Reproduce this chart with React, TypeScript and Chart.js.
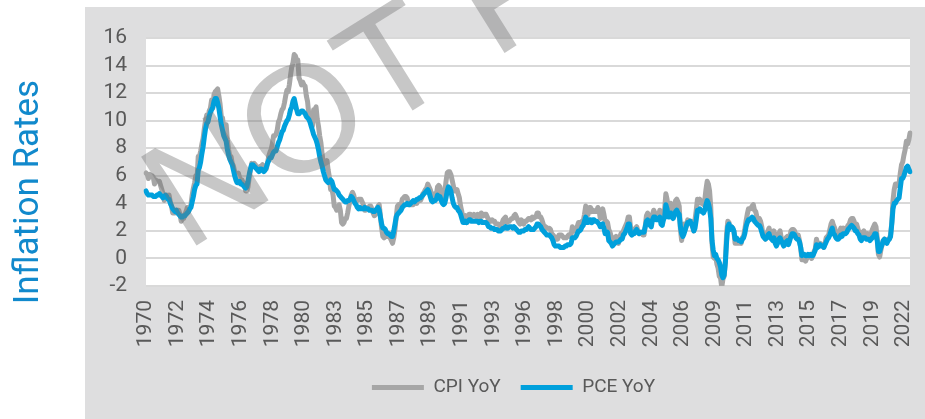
import React, { useEffect, useRef } from "react";
import Chart from "chart.js/auto";

// ---- Data (monthly YoY %, Jan 1970 – Jun 2022) ----
const startYear = 1970;
const labelStep = 26; // one tick label every 26 months

const cpi1970s = [
  6.2, 6.1, 5.8, 6.1, 6.0, 6.0, 5.9, 5.4, 5.7, 5.6, 5.6, 5.6,
  5.3, 5.0, 4.7, 4.2, 4.4, 4.6, 4.4, 4.6, 4.1, 3.8, 3.3, 3.3,
  3.3, 3.5, 3.5, 3.5, 3.2, 2.7, 2.9, 2.9, 3.2, 3.4, 3.7, 3.4,
  3.6, 3.9, 4.6, 5.1, 5.5, 6.0, 5.7, 7.4, 7.4, 7.8, 8.3, 8.7,
  9.4, 10.0, 10.4, 10.1, 10.7, 10.9, 11.5, 10.9, 11.9, 12.1, 12.2, 12.3,
  11.8, 11.2, 10.3, 10.2, 9.5, 9.3, 9.7, 8.6, 7.9, 7.4, 7.4, 6.9,
  6.7, 6.3, 6.1, 6.0, 6.2, 5.9, 5.4, 5.7, 5.5, 5.5, 4.9, 4.9,
  5.2, 5.9, 6.4, 6.9, 6.7, 6.9, 6.8, 6.6, 6.6, 6.4, 6.7, 6.7,
  6.8, 6.4, 6.6, 6.5, 6.9, 7.4, 7.7, 7.9, 8.3, 8.9, 8.9, 9.0,
  9.3, 9.9, 10.1, 10.5, 10.8, 10.9, 11.3, 11.8, 12.2, 12.1, 12.6, 13.3,
];
const cpi1980s = [
  13.9, 14.2, 14.8, 14.7, 14.4, 14.4, 13.1, 12.9, 12.6, 12.8, 12.6, 12.5,
  11.8, 11.4, 10.5, 10.0, 9.8, 9.6, 10.8, 10.8, 11.0, 10.1, 9.6, 8.9,
  8.4, 7.6, 6.8, 6.5, 6.7, 7.1, 6.4, 5.9, 5.0, 5.1, 4.6, 3.8,
  3.7, 3.5, 3.6, 3.9, 3.5, 2.6, 2.5, 2.6, 2.9, 2.9, 3.3, 3.8,
  4.2, 4.6, 4.8, 4.6, 4.2, 4.2, 4.2, 4.3, 4.3, 4.3, 4.1, 3.9,
  3.5, 3.5, 3.7, 3.7, 3.8, 3.8, 3.6, 3.3, 3.1, 3.2, 3.5, 3.8,
  3.9, 3.1, 2.2, 1.6, 1.5, 1.8, 1.6, 1.6, 1.8, 1.5, 1.3, 1.1,
  1.5, 2.1, 3.0, 3.8, 3.9, 3.7, 3.9, 4.3, 4.4, 4.5, 4.5, 4.4,
  4.0, 3.9, 3.9, 3.9, 3.9, 4.0, 4.1, 4.0, 4.2, 4.2, 4.2, 4.4,
  4.7, 4.8, 5.0, 5.1, 5.4, 5.2, 5.0, 4.7, 4.3, 4.5, 4.7, 4.6,
];
const cpi1990s = [
  5.2, 5.3, 5.2, 4.7, 4.4, 4.7, 4.8, 5.6, 6.2, 6.3, 6.3, 6.1,
  5.7, 5.3, 4.9, 4.9, 5.0, 4.7, 4.4, 3.8, 3.4, 2.9, 3.0, 3.1,
  2.6, 2.8, 3.2, 3.2, 3.0, 3.1, 3.2, 3.1, 3.0, 3.2, 3.0, 2.9,
  3.3, 3.2, 3.1, 3.2, 3.2, 3.0, 2.8, 2.8, 2.7, 2.8, 2.7, 2.7,
  2.5, 2.5, 2.5, 2.4, 2.3, 2.5, 2.8, 2.9, 3.0, 2.6, 2.7, 2.7,
  2.8, 2.9, 2.9, 3.1, 3.2, 3.0, 2.8, 2.6, 2.5, 2.8, 2.6, 2.5,
  2.7, 2.7, 2.8, 2.9, 2.9, 2.8, 3.0, 2.9, 3.0, 3.0, 3.3, 3.3,
  3.0, 3.0, 2.8, 2.5, 2.2, 2.3, 2.2, 2.2, 2.2, 2.1, 1.8, 1.7,
  1.6, 1.4, 1.4, 1.4, 1.7, 1.7, 1.7, 1.6, 1.5, 1.5, 1.5, 1.6,
  1.7, 1.6, 1.7, 2.3, 2.1, 2.0, 2.1, 2.3, 2.6, 2.6, 2.6, 2.7,
];
const cpi2000s = [
  2.7, 3.2, 3.8, 3.1, 3.2, 3.7, 3.7, 3.4, 3.5, 3.4, 3.4, 3.4,
  3.7, 3.5, 2.9, 3.3, 3.6, 3.2, 2.7, 2.7, 2.6, 2.1, 1.9, 1.6,
  1.1, 1.1, 1.5, 1.6, 1.2, 1.1, 1.5, 1.8, 1.5, 2.0, 2.2, 2.4,
  2.6, 3.0, 3.0, 2.2, 2.1, 2.1, 2.1, 2.2, 2.3, 2.0, 1.8, 1.9,
  1.9, 1.7, 1.7, 2.3, 3.1, 3.3, 3.0, 2.7, 2.5, 3.2, 3.5, 3.3,
  3.0, 3.0, 3.1, 3.5, 2.8, 2.5, 3.2, 3.6, 4.7, 4.3, 3.5, 3.4,
  4.0, 3.6, 3.4, 3.5, 4.2, 4.3, 4.1, 3.8, 2.1, 1.3, 2.0, 2.5,
  2.1, 2.4, 2.8, 2.6, 2.7, 2.7, 2.4, 2.0, 2.8, 3.5, 4.3, 4.1,
  4.3, 4.0, 4.0, 3.9, 4.2, 5.0, 5.6, 5.4, 4.9, 3.7, 1.1, 0.1,
  0.0, 0.2, -0.4, -0.7, -1.3, -1.4, -2.1, -1.5, -1.3, -0.2, 1.8, 2.7,
];
const cpi2010s = [
  2.6, 2.1, 2.3, 2.2, 2.0, 1.1, 1.2, 1.1, 1.1, 1.2, 1.1, 1.5,
  1.6, 2.1, 2.7, 3.2, 3.6, 3.6, 3.6, 3.8, 3.9, 3.5, 3.4, 3.0,
  2.9, 2.9, 2.7, 2.3, 1.7, 1.7, 1.4, 1.7, 2.0, 2.2, 1.8, 1.7,
  1.6, 2.0, 1.5, 1.1, 1.4, 1.8, 2.0, 1.5, 1.2, 1.0, 1.2, 1.5,
  1.6, 1.1, 1.5, 2.0, 2.1, 2.1, 2.0, 1.7, 1.7, 1.7, 1.3, 0.8,
  -0.1, 0.0, -0.1, -0.2, 0.0, 0.1, 0.2, 0.2, 0.0, 0.2, 0.5, 0.7,
  1.4, 1.0, 0.9, 1.1, 1.0, 1.0, 0.8, 1.1, 1.5, 1.6, 1.7, 2.1,
  2.5, 2.7, 2.4, 2.2, 1.9, 1.6, 1.7, 1.9, 2.2, 2.0, 2.2, 2.1,
  2.1, 2.2, 2.4, 2.5, 2.8, 2.9, 2.9, 2.7, 2.3, 2.5, 2.2, 1.9,
  1.6, 1.5, 1.9, 2.0, 1.8, 1.6, 1.8, 1.7, 1.7, 1.8, 2.1, 2.3,
];
const cpi2020s = [
  2.5, 2.3, 1.5, 0.3, 0.1, 0.6, 1.0, 1.3, 1.4, 1.2, 1.2, 1.4,
  1.4, 1.7, 2.6, 4.2, 5.0, 5.4, 5.4, 5.3, 5.4, 6.2, 6.8, 7.0,
  7.5, 7.9, 8.5, 8.3, 8.6, 9.1,
];

const pce1970s = [
  4.9, 4.7, 4.6, 4.6, 4.6, 4.6, 4.5, 4.5, 4.5, 4.6, 4.6, 4.7,
  4.6, 4.5, 4.4, 4.5, 4.6, 4.5, 4.3, 4.3, 4.0, 3.8, 3.6, 3.5,
  3.4, 3.5, 3.3, 3.2, 3.1, 3.0, 3.0, 3.1, 3.1, 3.2, 3.3, 3.4,
  3.6, 3.7, 4.1, 4.5, 5.0, 5.3, 5.4, 6.4, 6.6, 7.0, 7.6, 8.1,
  8.8, 9.4, 9.8, 9.9, 10.3, 10.6, 10.8, 11.0, 11.4, 11.6, 11.6, 11.3,
  10.9, 10.3, 9.7, 9.3, 8.9, 8.7, 8.5, 7.9, 7.5, 7.2, 7.0, 6.8,
  6.4, 6.0, 5.7, 5.5, 5.5, 5.6, 5.4, 5.4, 5.3, 5.2, 5.1, 5.2,
  5.6, 6.1, 6.5, 6.8, 6.8, 6.7, 6.6, 6.5, 6.4, 6.3, 6.5, 6.5,
  6.4, 6.3, 6.4, 6.6, 6.9, 7.1, 7.3, 7.3, 7.5, 7.7, 7.8, 7.8,
  8.1, 8.4, 8.6, 8.9, 9.2, 9.3, 9.6, 9.8, 10.0, 10.1, 10.4, 10.8,
];
const pce1980s = [
  11.0, 11.4, 11.6, 11.2, 10.8, 10.5, 10.5, 10.6, 10.7, 10.7, 10.6, 10.5,
  10.3, 10.2, 10.1, 9.9, 9.6, 9.3, 9.0, 8.8, 8.6, 8.3, 7.9, 7.4,
  7.0, 6.7, 6.3, 6.0, 5.7, 5.6, 5.5, 5.6, 5.7, 5.6, 5.3, 5.0,
  5.0, 4.9, 4.8, 4.6, 4.5, 4.4, 4.3, 4.2, 4.1, 4.1, 4.2, 4.2,
  4.3, 4.5, 4.4, 4.2, 4.0, 3.9, 3.7, 3.6, 3.7, 3.6, 3.6, 3.6,
  3.7, 3.6, 3.6, 3.6, 3.5, 3.5, 3.5, 3.4, 3.4, 3.5, 3.6, 3.7,
  3.5, 3.0, 2.5, 2.2, 2.2, 2.1, 1.9, 1.8, 1.8, 1.7, 1.6, 1.6,
  2.0, 2.5, 3.0, 3.2, 3.3, 3.4, 3.5, 3.7, 3.8, 3.9, 3.9, 4.0,
  3.9, 3.9, 4.0, 4.1, 4.2, 4.1, 4.2, 4.3, 4.3, 4.4, 4.4, 4.5,
  4.6, 4.7, 4.8, 4.9, 5.0, 4.8, 4.5, 4.2, 4.1, 4.2, 4.2, 4.3,
];
const pce1990s = [
  4.6, 4.5, 4.5, 4.2, 4.0, 3.9, 4.0, 4.4, 4.9, 5.2, 5.1, 4.9,
  4.4, 4.0, 3.8, 3.7, 3.7, 3.5, 3.4, 3.2, 2.9, 2.6, 2.6, 2.7,
  2.6, 2.7, 2.8, 2.8, 2.7, 2.7, 2.7, 2.7, 2.7, 2.7, 2.6, 2.7,
  2.7, 2.6, 2.6, 2.6, 2.6, 2.5, 2.3, 2.3, 2.2, 2.2, 2.2, 2.1,
  2.1, 2.1, 2.0, 2.0, 2.0, 2.1, 2.2, 2.2, 2.3, 2.2, 2.2, 2.3,
  2.3, 2.3, 2.2, 2.3, 2.2, 2.1, 2.0, 1.9, 1.9, 2.0, 2.0, 2.0,
  2.1, 2.1, 2.2, 2.3, 2.2, 2.1, 2.1, 2.1, 2.2, 2.3, 2.5, 2.5,
  2.4, 2.3, 2.1, 2.0, 1.9, 1.8, 1.7, 1.7, 1.7, 1.6, 1.5, 1.3,
  1.0, 0.9, 0.9, 0.9, 0.9, 0.8, 0.8, 0.8, 0.8, 0.9, 0.9, 1.0,
  1.0, 1.0, 1.1, 1.5, 1.5, 1.5, 1.6, 1.8, 2.0, 2.0, 2.1, 2.3,
];
const pce2000s = [
  2.4, 2.7, 3.0, 2.6, 2.6, 2.8, 2.8, 2.6, 2.8, 2.8, 2.7, 2.7,
  2.6, 2.5, 2.3, 2.4, 2.5, 2.2, 1.8, 1.8, 1.9, 1.3, 1.2, 1.1,
  0.9, 1.0, 1.1, 1.2, 1.2, 1.2, 1.3, 1.4, 1.4, 1.7, 1.8, 2.0,
  2.2, 2.5, 2.5, 1.8, 1.7, 1.8, 1.8, 2.0, 2.1, 1.9, 1.8, 1.9,
  1.9, 1.9, 1.9, 2.3, 2.7, 2.8, 2.6, 2.4, 2.3, 2.8, 3.0, 3.0,
  2.8, 2.8, 2.8, 3.0, 2.5, 2.4, 2.8, 3.0, 3.9, 3.6, 3.0, 3.0,
  3.3, 3.0, 2.9, 3.1, 3.4, 3.5, 3.3, 3.2, 2.3, 1.8, 1.6, 1.8,
  2.1, 2.4, 2.6, 2.6, 2.7, 2.5, 2.3, 2.0, 2.2, 2.8, 3.5, 3.5,
  3.6, 3.4, 3.4, 3.3, 3.5, 3.9, 4.2, 4.0, 3.6, 2.9, 1.3, 0.6,
  0.2, 0.3, 0.0, -0.1, -0.3, -0.6, -1.2, -1.4, -1.2, -0.3, 1.2, 2.3,
];
const pce2010s = [
  2.5, 2.1, 2.3, 2.2, 2.0, 1.4, 1.5, 1.4, 1.3, 1.3, 1.2, 1.4,
  1.5, 1.8, 2.3, 2.6, 2.8, 2.8, 2.9, 3.0, 2.9, 2.7, 2.6, 2.5,
  2.4, 2.4, 2.2, 1.9, 1.6, 1.5, 1.4, 1.5, 1.7, 1.8, 1.5, 1.4,
  1.3, 1.5, 1.1, 0.9, 1.1, 1.4, 1.5, 1.3, 1.1, 0.9, 1.0, 1.2,
  1.3, 1.0, 1.3, 1.6, 1.8, 1.8, 1.7, 1.5, 1.4, 1.4, 1.2, 0.8,
  0.2, 0.3, 0.3, 0.2, 0.2, 0.3, 0.2, 0.3, 0.2, 0.2, 0.4, 0.6,
  1.0, 0.8, 0.9, 1.0, 0.9, 0.9, 0.8, 1.0, 1.2, 1.4, 1.5, 1.7,
  2.0, 2.2, 1.8, 1.7, 1.5, 1.4, 1.4, 1.5, 1.7, 1.6, 1.8, 1.8,
  1.8, 1.9, 2.1, 2.2, 2.3, 2.4, 2.3, 2.2, 2.0, 2.0, 1.8, 1.7,
  1.4, 1.3, 1.5, 1.5, 1.5, 1.4, 1.4, 1.4, 1.3, 1.4, 1.5, 1.6,
];
const pce2020s = [
  1.8, 1.8, 1.3, 0.5, 0.5, 0.8, 1.0, 1.3, 1.4, 1.2, 1.1, 1.3,
  1.4, 1.6, 2.5, 3.6, 4.0, 4.0, 4.2, 4.3, 4.4, 5.1, 5.8, 5.8,
  6.0, 6.3, 6.6, 6.7, 6.5, 6.3,
];

const cpiYoY = [...cpi1970s, ...cpi1980s, ...cpi1990s, ...cpi2000s, ...cpi2010s, ...cpi2020s];
const pceYoY = [...pce1970s, ...pce1980s, ...pce1990s, ...pce2000s, ...pce2010s, ...pce2020s];
const categories = cpiYoY.map((_, i) => String(startYear + Math.floor(i / 12)));

const yMin = -2;
const yMax = 16;
const yStep = 2;
const seriesNames = ["CPI YoY", "PCE YoY"];
const yTitle = "Inflation Rates";
const watermark = "NOT FOR DISTRIBUTION";

// ---- Styles ----
const W = 925;
const H = 419;
const PANEL = { x: 85, y: 7 };
const GRAY_PANEL = "#dededf";
const CPI_COLOR = "#a6a6a6";
const PCE_COLOR = "#00a0dc";
const TEXT_COLOR = "#595959";
const TITLE_COLOR = "#1189cc";
const LEGEND_SHIFT = 16;

const decorPlugin = {
  id: "decor",
  afterLayout(chart: any) {
    if (chart.legend) {
      chart.legend.left += LEGEND_SHIFT;
      chart.legend.right += LEGEND_SHIFT;
    }
  },
  beforeDraw(chart: any) {
    const { ctx, chartArea } = chart;
    ctx.save();
    ctx.fillStyle = "#ffffff";
    ctx.fillRect(0, 0, W, H);
    ctx.fillStyle = GRAY_PANEL;
    ctx.fillRect(PANEL.x, PANEL.y, W - PANEL.x, H - PANEL.y);
    ctx.fillStyle = "#ffffff";
    ctx.fillRect(chartArea.left, chartArea.top, chartArea.right - chartArea.left, chartArea.bottom - chartArea.top);
    ctx.restore();
  },
  afterDraw(chart: any) {
    const { ctx } = chart;
    // y-axis title
    ctx.save();
    ctx.translate(29, 192);
    ctx.rotate(-Math.PI / 2);
    ctx.font = '35px Roboto';
    ctx.fillStyle = TITLE_COLOR;
    ctx.textAlign = "center";
    ctx.textBaseline = "middle";
    ctx.fillText(yTitle, 0, 0);
    ctx.restore();
    // watermark
    ctx.save();
    ctx.translate(186, 252);
    ctx.rotate((-32 * Math.PI) / 180);
    ctx.font = '152px "Liberation Sans", Arial, sans-serif';
    ctx.fillStyle = "rgba(116,116,116,0.4)";
    ctx.textBaseline = "alphabetic";
    ctx.fillText(watermark, 0, 0);
    ctx.restore();
  },
};

export default function App() {
  const canvasRef = useRef<HTMLCanvasElement | null>(null);

  useEffect(() => {
    const canvas = canvasRef.current;
    if (!canvas) return;
    const chart = new Chart(canvas, {
      type: "line",
      data: {
        labels: categories,
        datasets: [
          {
            label: seriesNames[0],
            data: cpiYoY,
            borderColor: CPI_COLOR,
            backgroundColor: CPI_COLOR,
            borderWidth: 5,
            pointRadius: 0,
            borderJoinStyle: "round",
            borderCapStyle: "round",
            tension: 0,
            order: 2,
          },
          {
            label: seriesNames[1],
            data: pceYoY,
            borderColor: PCE_COLOR,
            backgroundColor: PCE_COLOR,
            borderWidth: 5,
            pointRadius: 0,
            borderJoinStyle: "round",
            borderCapStyle: "round",
            tension: 0,
            order: 1,
          },
        ],
      },
      options: {
        responsive: false,
        animation: false,
        devicePixelRatio: 1,
        layout: { padding: { left: PANEL.x, top: 38, right: 15, bottom: 12 } },
        font: { family: "Roboto" },
        plugins: {
          tooltip: { enabled: false },
          legend: {
            position: "bottom",
            labels: {
              usePointStyle: true,
              pointStyle: "line",
              pointStyleWidth: 52,
              padding: 20,
              color: TEXT_COLOR,
              font: { family: "Roboto", size: 19 },
              sort: (a: any, b: any) => a.datasetIndex - b.datasetIndex,
            },
          },
        },
        scales: {
          x: {
            type: "category",
            grid: { display: false, drawTicks: false },
            border: { display: false },
            afterFit: (s: any) => {
              s.height = 72;
              s.paddingLeft = 0;
              s.paddingRight = 0;
            },
            ticks: {
              autoSkip: false,
              minRotation: 90,
              maxRotation: 90,
              padding: 14,
              color: TEXT_COLOR,
              font: { family: "Roboto", size: 21 },
              callback: (_v: any, i: number) => (i % labelStep === 0 ? categories[i] : ""),
            },
          },
          y: {
            min: yMin,
            max: yMax,
            afterFit: (s: any) => {
              s.width = 61;
              s.paddingTop = 0;
              s.paddingBottom = 0;
            },
            grid: { color: "#d9d9d9", lineWidth: 2, drawTicks: false },
            border: { display: false },
            ticks: {
              stepSize: yStep,
              autoSkip: false,
              padding: 19,
              color: TEXT_COLOR,
              font: { family: "Roboto", size: 21 },
            },
          },
        },
      },
      plugins: [decorPlugin],
    } as any);
    return () => chart.destroy();
  }, []);

  return (
    <div style={{ position: "fixed", left: 0, top: 0, width: W, height: H }}>
      <canvas ref={canvasRef} width={W} height={H} style={{ display: "block" }} />
    </div>
  );
}
